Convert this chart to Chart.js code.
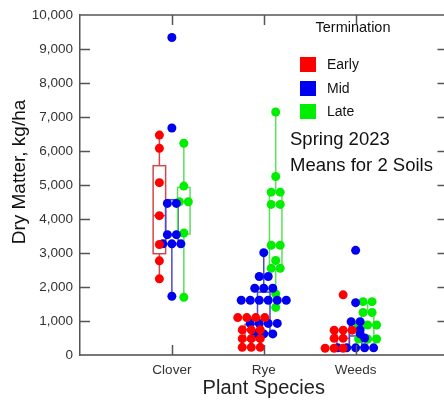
<!DOCTYPE html>
<html>
<head>
<meta charset="utf-8">
<script src="https://cdn.jsdelivr.net/npm/chart.js@4.4.1/dist/chart.umd.min.js"></script>
<style>
  body { margin: 0; background: #fff; }
  #wrap { width: 444px; height: 400px; overflow: hidden; }
</style>
</head>
<body>
<div id="wrap"><canvas id="chart" width="452" height="400"></canvas></div>
<script>
const species = ['Clover', 'Rye', 'Weeds']
const terminations = ['Early', 'Mid', 'Late']
const pointColors = ['#ff0000', '#0000f0', '#00ee00']
const boxColors = ['#d24848', '#4848d0', '#5ce05c']
const yTicks = [0, 1000, 2000, 3000, 4000, 5000, 6000, 7000, 8000, 9000, 10000]

// [dry matter, jitter slot]
const cloverEarly = [[6470, 0], [6080, 0], [5070, 0], [4100, 0], [3250, 0], [2770, 0], [2240, 0]]
const cloverMid = [[9340, 0], [6680, 0], [4460, -0.5], [4460, 0.5], [3540, -0.5], [3540, 0.5],
  [3270, -1], [3270, 0], [3270, 1], [1730, 0]]
const cloverLate = [[6230, 0], [4970, 0], [4510, -0.5], [4510, 0.5], [3590, 0], [1700, 0]]

const ryeEarly = [[1100, -1.5], [1100, -0.5], [1100, 0.5], [1100, 1.5],
  [740, -1], [740, 0], [740, 1], [480, -1], [480, 0], [480, 1], [225, -1], [225, 0], [225, 1]]
const ryeMid = [[3010, 0], [2310, -0.5], [2310, 0.5], [1965, -1], [1965, 0], [1965, 1],
  [1610, -2.5], [1610, -1.5], [1610, -0.5], [1610, 0.5], [1610, 1.5], [1610, 2.5],
  [930, -1.5], [930, -0.5], [930, 0.5], [930, 1.5], [620, -1], [620, 0], [620, 1]]
const ryeLate = [[7150, 0], [5250, 0], [4790, -0.5], [4790, 0.5], [4430, -0.5], [4430, 0.5],
  [3230, -0.5], [3230, 0.5], [2780, 0], [2550, -0.5], [2550, 0.5], [1800, 0], [1400, 0]]

const weedsEarly = [[1770, 0], [730, -1], [730, 0], [730, 1], [490, -1], [490, 0],
  [200, -2], [200, -1], [200, 0]]
const weedsMid = [[3080, 0], [1540, 0], [980, -0.5], [980, 0.5], [740, 0.5], [620, 0.5], [500, 1],
  [210, -2], [210, -1], [210, 0], [210, 1], [210, 2]]
const weedsLate = [[1570, -0.5], [1570, 0.5], [1250, -0.5], [1250, 0.5],
  [884, -1], [884, 0], [884, 1], [470, -1], [470, 0], [470, 1]]

// box stats per species: [low whisker, q1, median, q3, high whisker]
const earlyBox = [[2240, 2980, 4100, 5570, 6470], [225, 440, 740, 900, 1100], [200, 260, 490, 730, 730]]
const midBox = [[1730, 3270, 3540, 4570, 4570], [620, 640, 1610, 1850, 3010], [210, 230, 560, 900, 980]]
const lateBox = [[1700, 3560, 4510, 4930, 6230], [1400, 2550, 3230, 4800, 7150], [200, 450, 884, 1260, 1570]]

const groupOffset = [-0.136, 0, 0.13]
const slotWidth = 0.098
const boxHalf = 0.068

const pointSets = [
  [cloverEarly, ryeEarly, weedsEarly],
  [cloverMid, ryeMid, weedsMid],
  [cloverLate, ryeLate, weedsLate]
]
const boxSets = [earlyBox, midBox, lateBox]

const datasets = terminations.map((name, t) => ({
  label: name,
  data: pointSets[t].flatMap((pts, s) =>
    pts.map(([v, slot]) => ({ x: s + groupOffset[t] + slot * slotWidth, y: v }))),
  backgroundColor: pointColors[t],
  borderWidth: 0,
  pointRadius: 4.5,
  pointHoverRadius: 4.5
}))

const font = '"Liberation Sans", Arial, sans-serif'

const boxPlugin = {
  id: 'boxes',
  beforeDatasetsDraw(chart) {
    const { ctx, scales: { x, y } } = chart
    ctx.save()
    ctx.lineWidth = 1.5
    boxSets.forEach((boxes, t) => {
      ctx.strokeStyle = boxColors[t]
      boxes.forEach(([lo, q1, med, q3, hi], s) => {
        const c = s + groupOffset[t]
        const cx = x.getPixelForValue(c)
        const l = x.getPixelForValue(c - boxHalf)
        const r = x.getPixelForValue(c + boxHalf)
        ctx.beginPath()
        ctx.moveTo(cx, y.getPixelForValue(hi))
        ctx.lineTo(cx, y.getPixelForValue(q3))
        ctx.moveTo(cx, y.getPixelForValue(q1))
        ctx.lineTo(cx, y.getPixelForValue(lo))
        ctx.stroke()
        ctx.strokeRect(l, y.getPixelForValue(q3), r - l, y.getPixelForValue(q1) - y.getPixelForValue(q3))
        ctx.beginPath()
        ctx.moveTo(l, y.getPixelForValue(med))
        ctx.lineTo(r, y.getPixelForValue(med))
        ctx.stroke()
      })
    })
    ctx.restore()
  }
}

const framePlugin = {
  id: 'frame',
  afterDraw(chart) {
    const { ctx, chartArea: a, scales: { x, y } } = chart
    ctx.save()
    ctx.strokeStyle = '#555'
    ctx.lineWidth = 1.5
    ctx.beginPath()
    ctx.moveTo(a.left, a.top)
    ctx.lineTo(a.right, a.top)
    ctx.lineTo(a.right, a.bottom)
    yTicks.slice(1, -1).forEach(v => {
      const py = Math.round(y.getPixelForValue(v)) + 0.5
      ctx.moveTo(a.left, py)
      ctx.lineTo(a.left + 10, py)
      ctx.moveTo(a.right, py)
      ctx.lineTo(a.right - 10, py)
    })
    species.forEach((_, i) => {
      const px = Math.round(x.getPixelForValue(i)) + 0.5
      ctx.moveTo(px, a.top)
      ctx.lineTo(px, a.top + 10)
      ctx.moveTo(px, a.bottom)
      ctx.lineTo(px, a.bottom - 10)
    })
    ctx.stroke()

    // y axis title, sits a bit above the axis middle
    ctx.save()
    ctx.translate(20, 172)
    ctx.rotate(-Math.PI / 2)
    ctx.fillStyle = '#111'
    ctx.textAlign = 'center'
    ctx.textBaseline = 'middle'
    ctx.font = '19px ' + font
    ctx.fillText('Dry Matter, kg/ha', 0, 0)
    ctx.restore()

    // legend
    ctx.fillStyle = '#111'
    ctx.textBaseline = 'middle'
    ctx.textAlign = 'center'
    ctx.font = '14.5px ' + font
    ctx.fillText('Termination', 353, 28)
    ctx.textAlign = 'left'
    const rows = [64, 88, 111]
    terminations.forEach((name, t) => {
      ctx.fillStyle = pointColors[t]
      ctx.fillRect(300, rows[t] - 7, 16, 15)
      ctx.fillStyle = '#111'
      ctx.font = '14px ' + font
      ctx.fillText(name, 327, rows[t] + 1)
    })
    ctx.font = '18.5px ' + font
    ctx.fillText('Spring 2023', 290, 140)
    ctx.fillText('Means for 2 Soils', 290, 166)
    ctx.restore()
  }
}

new Chart(document.getElementById('chart'), {
  type: 'scatter',
  data: { datasets },
  options: {
    responsive: false,
    devicePixelRatio: 1,
    animation: false,
    layout: { padding: { top: 10, right: 4, left: 0, bottom: 0 } },
    plugins: { legend: { display: false }, tooltip: { enabled: false } },
    scales: {
      x: {
        type: 'linear',
        min: -1,
        max: 3,
        afterBuildTicks: scale => { scale.ticks = species.map((_, i) => ({ value: i })) },
        afterFit: scale => { scale.height = 45 },
        ticks: {
          callback: v => species[v],
          color: '#333',
          font: { family: font, size: 13.5 },
          padding: 7,
          autoSkip: false,
          maxRotation: 0
        },
        grid: { display: false, drawTicks: false },
        border: { display: true, color: '#777', width: 2 },
        title: {
          display: true,
          text: 'Plant Species',
          color: '#222',
          font: { family: font, size: 20 },
          padding: { top: 0, bottom: 0 }
        }
      },
      y: {
        min: 0,
        max: 10000,
        afterBuildTicks: scale => { scale.ticks = yTicks.map(v => ({ value: v })) },
        afterFit: scale => { scale.width = 80 },
        ticks: {
          callback: v => v.toLocaleString('en-US'),
          color: '#333',
          font: { family: font, size: 13.5 },
          padding: 7
        },
        grid: { display: false, drawTicks: false },
        border: { display: true, color: '#555', width: 1.5 },
        title: { display: false }
      }
    }
  },
  plugins: [boxPlugin, framePlugin]
})
</script>
</body>
</html>
